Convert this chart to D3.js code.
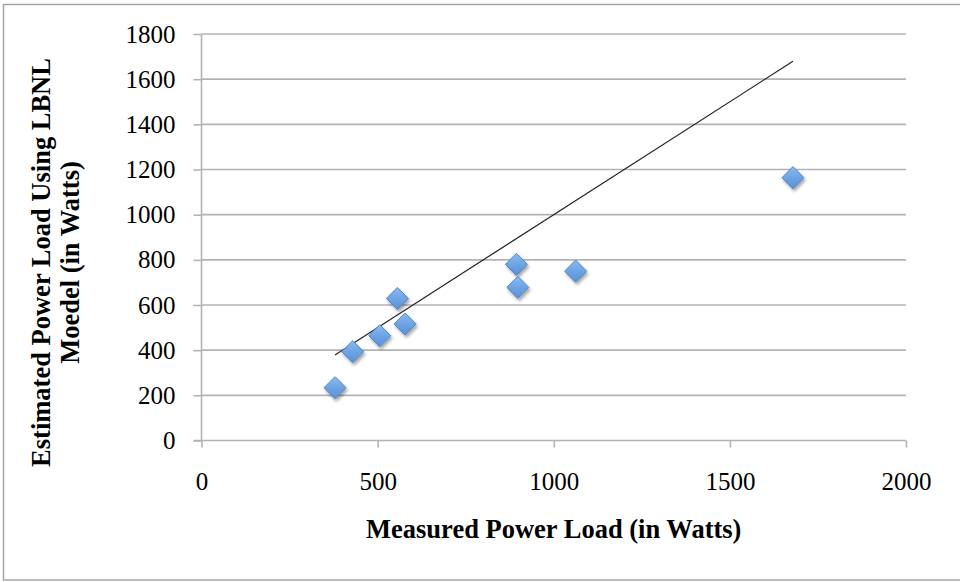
<!DOCTYPE html>
<html>
<head>
<meta charset="utf-8">
<script src="https://cdn.jsdelivr.net/npm/d3@7"></script>
<style>
  html, body { margin: 0; padding: 0; background: #fff; }
  svg { display: block; }
  text { font-family: "Liberation Serif", "Times New Roman", serif; fill: #000; }
</style>
</head>
<body>
<svg id="chart" width="960" height="582"></svg>
<script>
// ---- data ----
const measured  = [379, 429, 506, 556, 578, 894, 898, 1062, 1679];
const estimated = [234, 393, 464, 629, 516, 780, 678, 750, 1164];
const xTicks = [0, 500, 1000, 1500, 2000];
const yTicks = [0, 200, 400, 600, 800, 1000, 1200, 1400, 1600, 1800];
const xTitle = "Measured Power Load (in Watts)";
const yTitleLines = ["Estimated Power Load Using LBNL", "Moedel (in Watts)"];

const svg = d3.select("#chart");
const L = 201.5, R = 906, T = 34, B = 440.5;

// outer frame
svg.append("rect").attr("x", 3.5).attr("y", 4.5).attr("width", 960).attr("height", 575.5)
  .attr("fill", "#fff").attr("stroke", "#a6a6a6").attr("stroke-width", 1.5);

const x = d3.scaleLinear().domain([0, 2000]).range([L, R]);
const y = d3.scaleLinear().domain([0, 1800]).range([B, T]);

const defs = svg.append("defs");
const grad = defs.append("linearGradient").attr("id", "mg").attr("x1", 0).attr("y1", 0).attr("x2", 0).attr("y2", 1);
grad.append("stop").attr("offset", "0%").attr("stop-color", "#8cbbef");
grad.append("stop").attr("offset", "55%").attr("stop-color", "#6aa2e3");
grad.append("stop").attr("offset", "100%").attr("stop-color", "#5a92d6");
const filt = defs.append("filter").attr("id", "sh").attr("x", "-50%").attr("y", "-50%").attr("width", "200%").attr("height", "200%");
filt.append("feDropShadow").attr("dx", 1.5).attr("dy", 2.5).attr("stdDeviation", 1.8)
  .attr("flood-color", "#000").attr("flood-opacity", 0.35);

// gridlines
svg.append("g").selectAll("line").data(yTicks.filter(d => d > 0)).join("line")
  .attr("x1", L).attr("x2", R).attr("y1", d => y(d)).attr("y2", d => y(d))
  .attr("stroke", "#b3b3b3").attr("stroke-width", 1.6);

// y axis
const yAxis = svg.append("g").attr("transform", `translate(${L},0)`)
  .call(d3.axisLeft(y).tickValues(yTicks).tickSize(8).tickPadding(18).tickFormat(d3.format("d")));
yAxis.select(".domain").attr("stroke", "#b3b3b3").attr("stroke-width", 1.6).attr("d", `M0,${T}V${B}`);
yAxis.selectAll(".tick line").attr("stroke", "#b3b3b3").attr("stroke-width", 1.6);
yAxis.selectAll(".tick text").attr("font-size", 25).attr("font-family", "Liberation Serif").attr("fill", "#000");

// x axis
const xAxis = svg.append("g").attr("transform", `translate(0,${B})`)
  .call(d3.axisBottom(x).tickValues(xTicks).tickSize(7).tickPadding(25).tickFormat(d3.format("d")));
xAxis.select(".domain").attr("stroke", "#b3b3b3").attr("stroke-width", 1.6).attr("d", `M${L - 8},0H${R}`);
xAxis.selectAll(".tick line").attr("stroke", "#b3b3b3").attr("stroke-width", 1.6);
xAxis.selectAll(".tick text").attr("font-size", 25).attr("font-family", "Liberation Serif").attr("fill", "#000");

// y = x reference line across data range
const ext = d3.extent(measured);
svg.append("line")
  .attr("x1", x(ext[0])).attr("y1", y(ext[0]))
  .attr("x2", x(ext[1])).attr("y2", y(ext[1]))
  .attr("stroke", "#222").attr("stroke-width", 1.2);

// markers
const sym = d3.symbol().type(d3.symbolDiamond2).size(310);
svg.append("g").selectAll("path").data(measured.map((m, i) => [m, estimated[i]])).join("path")
  .attr("d", sym)
  .attr("transform", d => `translate(${x(d[0])},${y(d[1])})`)
  .attr("fill", "url(#mg)").attr("stroke", "#4f85c9").attr("stroke-width", 1)
  .attr("filter", "url(#sh)");

// axis titles
svg.append("text").attr("x", (L + R) / 2).attr("y", 538).attr("text-anchor", "middle")
  .attr("font-size", 26.5).attr("font-weight", "bold").text(xTitle);

const yt = svg.append("text").attr("transform", `translate(50,262.5) rotate(-90)`)
  .attr("text-anchor", "middle").attr("font-size", 26.5).attr("font-weight", "bold");
yTitleLines.forEach((t, i) => {
  yt.append("tspan").attr("x", 0).attr("dy", i === 0 ? 0 : "1.1em").text(t);
});
</script>
</body>
</html>
